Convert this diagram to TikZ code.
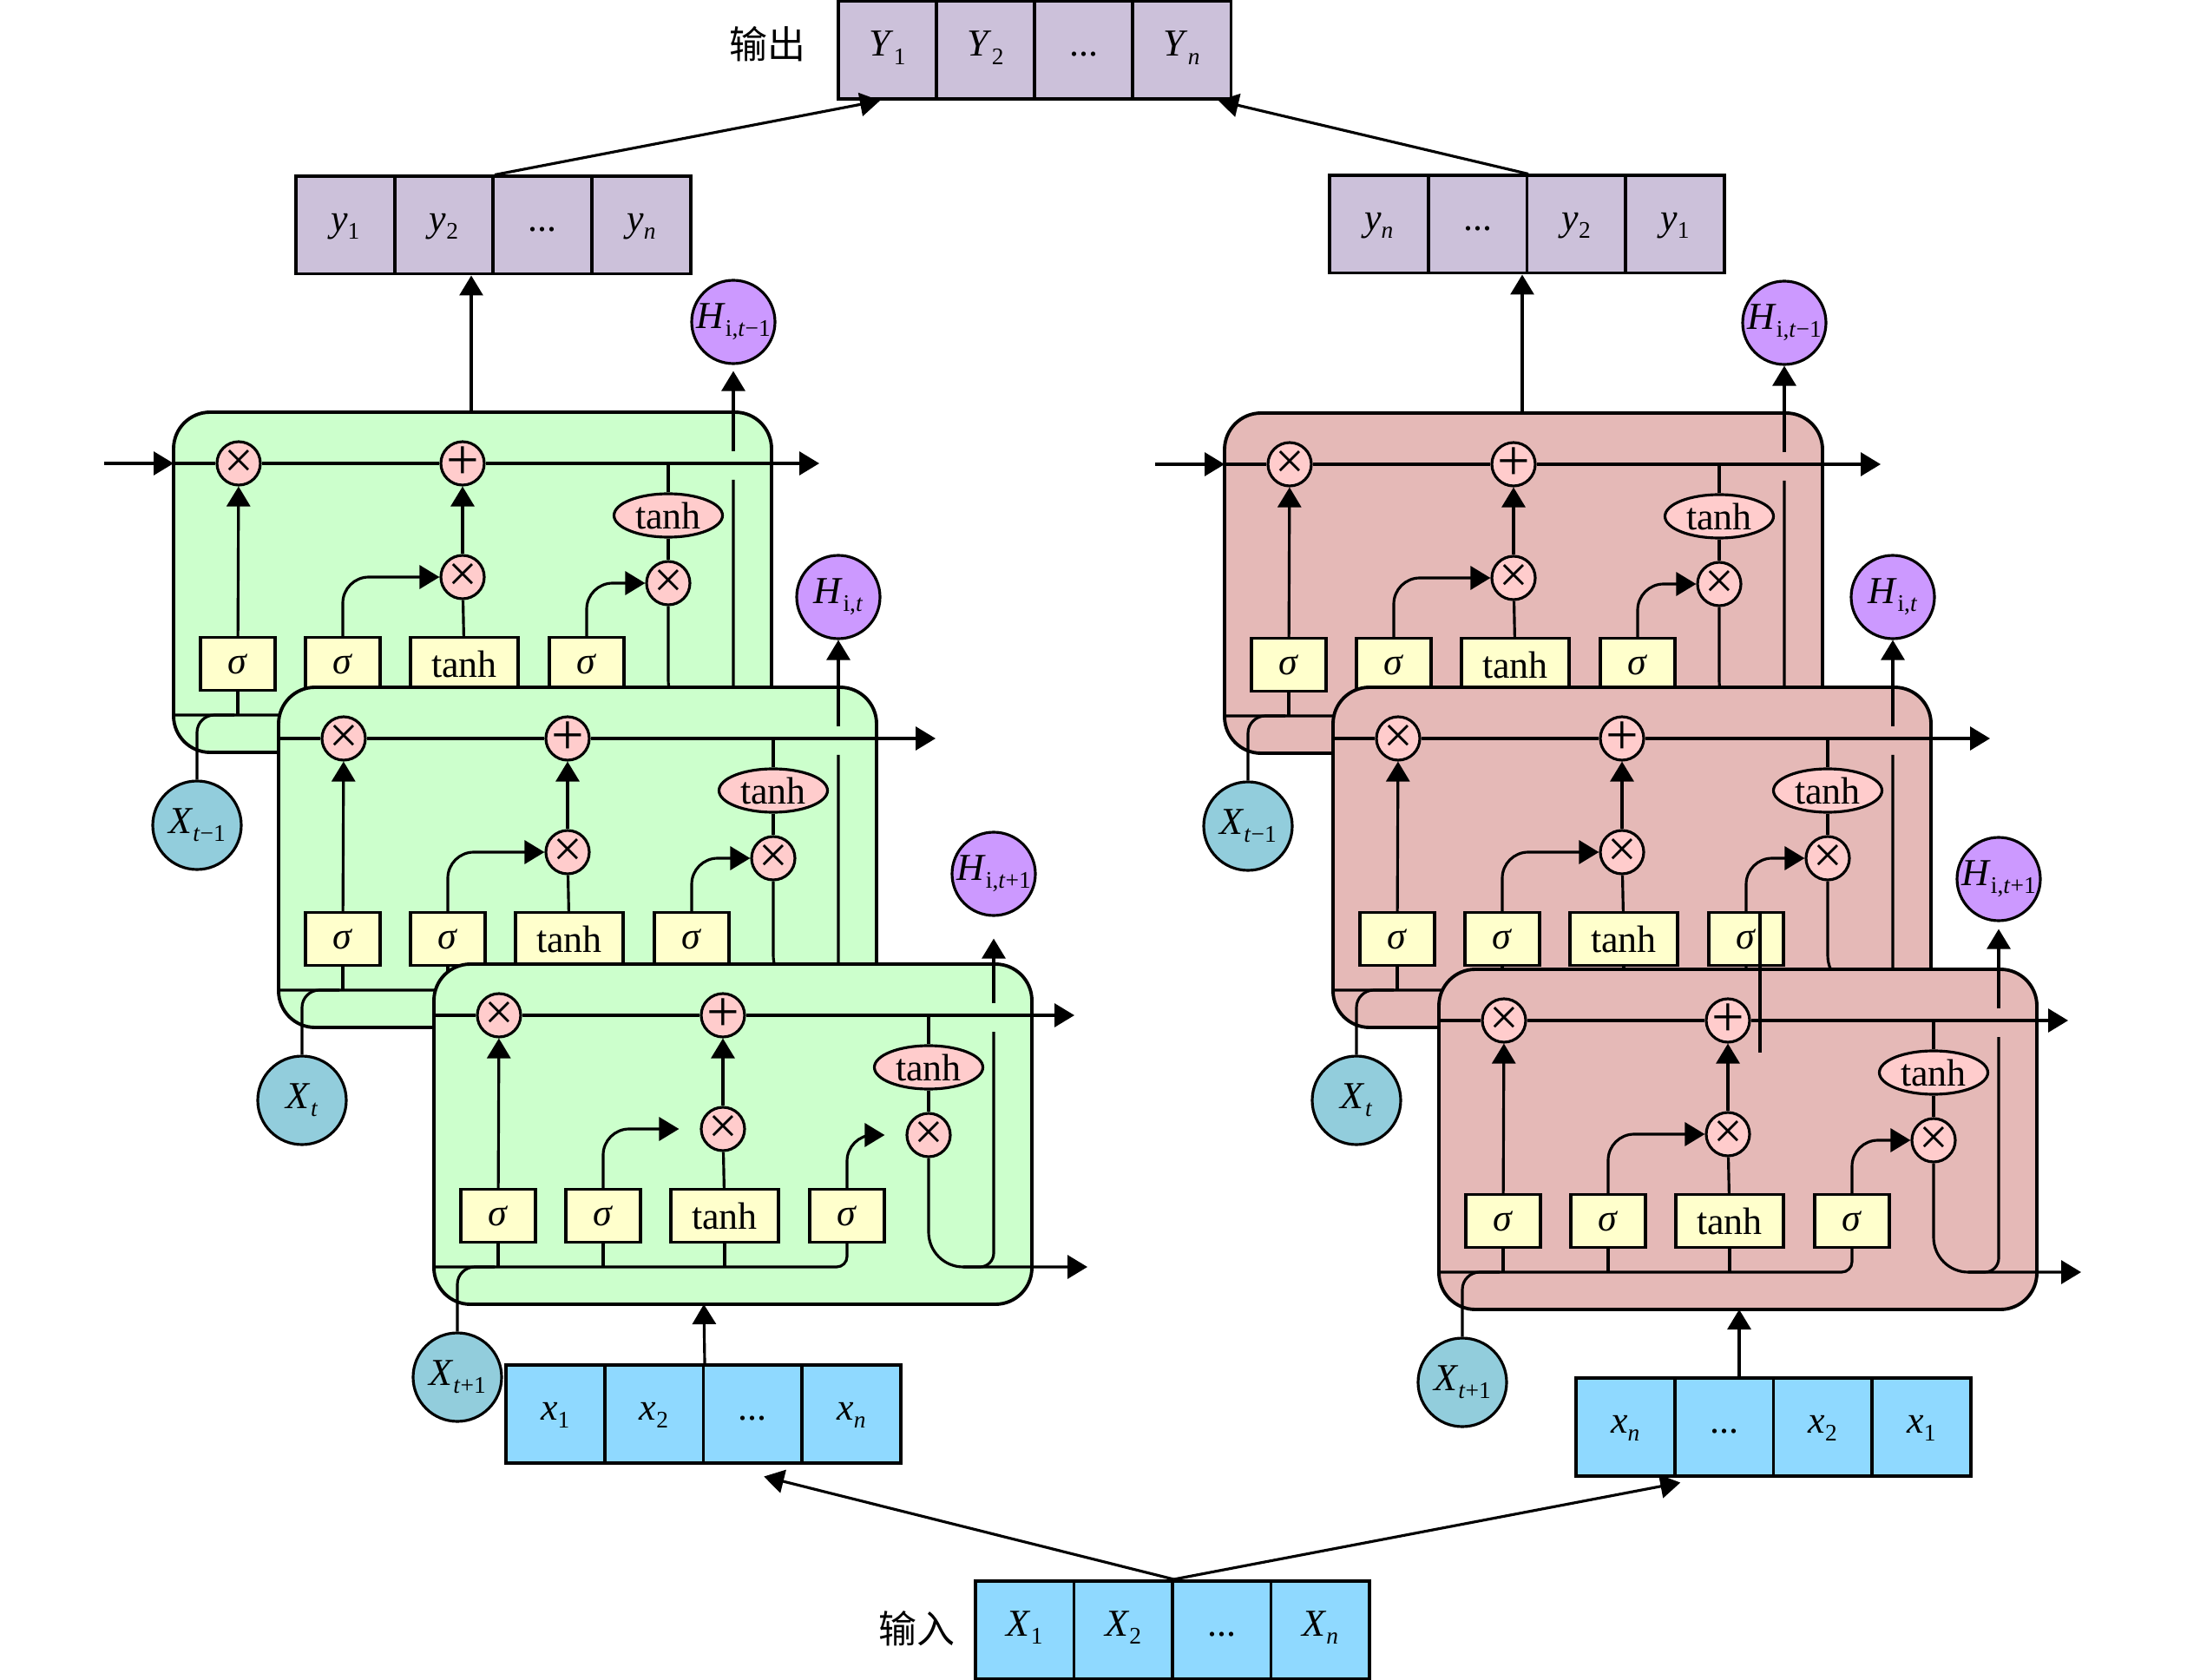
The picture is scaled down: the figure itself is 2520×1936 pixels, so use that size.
\documentclass[tikz,border=0pt]{standalone}
\usepackage{fontspec}
\setmainfont{Liberation Serif}
\newfontfamily\cjk{Noto Sans CJK SC}
\usetikzlibrary{arrows.meta,shapes.geometric}
\definecolor{cgreen}{HTML}{CCFFCC}
\definecolor{cpink}{HTML}{E5B9B7}
\definecolor{opk}{HTML}{FFCCCC}
\definecolor{gyel}{HTML}{FFFFCC}
\definecolor{hpur}{HTML}{CC99FF}
\definecolor{xteal}{HTML}{92CDDC}
\definecolor{ylav}{HTML}{CCC1DA}
\definecolor{xblue}{HTML}{8FD9FF}
\newcommand{\ssb}[2]{\textit{#1}\raisebox{-2.6pt}{\fontsize{7.8pt}{7.8pt}\selectfont #2}}
\newcommand{\opx}{\makebox[0pt]{\fontsize{17pt}{17pt}\selectfont ×}}
\newcommand{\opp}{\makebox[0pt]{\fontsize{19pt}{19pt}\selectfont +}}
\tikzset{
  ln/.style={line width=0.9pt},
  arr/.style={ln,-{Triangle[length=2.3mm,width=2.7mm]}},
  cellbox/.style={draw,line width=1.1pt,rounded corners=4.2mm},
  opc/.style={circle,draw,ln,fill=opk,minimum size=5mm,inner sep=0pt},
  tanhell/.style={ellipse,draw,ln,fill=opk,minimum width=12.5mm,minimum height=5mm,inner sep=0pt},
  gatebox/.style={rectangle,draw,ln,fill=gyel,minimum width=8.6mm,minimum height=6.1mm,inner sep=0pt},
  tanhbox/.style={gatebox,minimum width=12.4mm},
  hcirc/.style={circle,draw,ln,fill=hpur,minimum size=9.6mm,inner sep=0pt},
  xcirc/.style={circle,draw,ln,fill=xteal,minimum size=10.2mm,inner sep=0pt},
  vcell/.style={rectangle,draw,line width=1pt,minimum width=11.35mm,minimum height=11.25mm,inner sep=0pt,text height=2.6mm,text depth=1.2mm},
}
% #1 x, #2 y, #3 prefix, #4 fill, #5 X label, #6 H label, #7 state arrow end, #8 gate arrow shorten, #9 H arrow gap
\newcommand{\lstmcell}[9]{%
\begin{scope}[shift={(#1,#2)}]
\draw[cellbox,fill=#4] (0,0) rectangle (689,392);
\node[opc] (#3f) at (75,59) {\opx};
\node[opc] (#3p) at (333,59) {\opp};
\node[opc] (#3i) at (333,190) {\opx};
\node[opc] (#3o) at (570,197) {\opx};
\node[tanhell] (#3te) at (570,119) {tanh};
\node[gatebox] (#3b1) at (74,290) {\textit{σ}};
\node[gatebox] (#3b2) at (195,290) {\textit{σ}};
\node[tanhbox] (#3b3) at (335,290) {tanh};
\node[gatebox] (#3b4) at (476,290) {\textit{σ}};
\node[xcirc] (#3X) at (27,476) {\makebox[0pt]{#5}};
\node[hcirc] (#3H) at (645,-104) {\makebox[0pt]{#6}};
\coordinate (#3in) at (0,59);
\coordinate (#3out) at (#7,59);
\coordinate (#3tap) at (570,59);
\coordinate (#3bus) at (0,349);
\coordinate (#3xj) at (70,349);
\coordinate (#3hout) at (#7+15,349);
\coordinate (#3hj) at (610,349);
\coordinate (#3hb) at (645,78);
\coordinate (#3ht) at (645,45);
\coordinate (#3top) at (343,0);
\draw[ln] (#3in) -- (#3f);
\draw[ln] (#3f) -- (#3p);
\draw[arr] (#3p) -- (#3out);
\draw[ln] (#3tap) -- (#3te);
\draw[ln] (#3te) -- (#3o);
\draw[arr] (#3b1) -- (#3f);
\draw[ln] (#3b3) -- (#3i);
\draw[arr] (#3i) -- (#3p);
\draw[arr,rounded corners=3mm,shorten >=#8] (#3b2.north) |- (#3i.west);
\draw[arr,rounded corners=3mm,shorten >=#8] (#3b4.north) |- (#3o.west);
\draw[ln,rounded corners=1.2mm] (#3bus) -| (#3b4.south);
\draw[ln] (#3b1.south) -- (#3b1.south |- #3bus);
\draw[ln] (#3b2.south) -- (#3b2.south |- #3bus);
\draw[ln] (#3b3.south) -- (#3b3.south |- #3bus);
\draw[ln,rounded corners=2mm] (#3X.north) |- (#3xj);
\draw[arr,rounded corners=4mm] (#3o.south) |- (#3hout);
\draw[ln,rounded corners=1.6mm] (#3hj) -| (#3hb);
\draw[arr,shorten >=#9] (#3ht) -- (#3H);
\end{scope}}

\begin{document}
\begin{tikzpicture}[x=0.1mm,y=-0.1mm,font=\fontsize{12.5pt}{15pt}\selectfont]
\useasboundingbox (0,0) rectangle (2520,1936);

% ---------- left column ----------
\lstmcell{200}{475}{L1}{cgreen}{\ssb{X}{\textit{t}−1}}{\ssb{H}{i,\textit{t}−1}}{744}{0mm}{0.7mm}
\lstmcell{321}{792}{L2}{cgreen}{\ssb{X}{\textit{t}}}{\ssb{H}{i,\textit{t}}}{757}{0mm}{0mm}
\lstmcell{500}{1111}{L3}{cgreen}{\ssb{X}{\textit{t}+1}}{\ssb{H}{i,\textit{t}+1}}{738}{2.4mm}{2.5mm}
% ---------- right column ----------
\lstmcell{1411}{476}{R1}{cpink}{\ssb{X}{\textit{t}−1}}{\ssb{H}{i,\textit{t}−1}}{756}{0mm}{0mm}
\lstmcell{1536}{792}{R2}{cpink}{\ssb{X}{\textit{t}}}{\ssb{H}{i,\textit{t}}}{757}{0mm}{0mm}
\lstmcell{1658}{1117}{R3}{cpink}{\ssb{X}{\textit{t}+1}}{\ssb{H}{i,\textit{t}+1}}{725}{0mm}{0.8mm}

% stray vertical line in right column
\coordinate (sA) at (2028,1052);
\coordinate (sB) at (2028,1213);
\draw[ln] (sA) -- (sB);

% incoming cell-state arrows
\coordinate (Lsrc) at (120,534);
\coordinate (Rsrc) at (1331,535);
\draw[arr] (Lsrc) -- (L1in);
\draw[arr] (Rsrc) -- (R1in);

% ---------- output box ----------
\node[font=\cjk\fontsize{12.5pt}{15pt}\selectfont] (outlbl) at (884,51) {输出};
\node[vcell,fill=ylav] (oY1) at (1022.5,58) {\ssb{Y}{1}};
\node[vcell,fill=ylav] (oY2) at (1135.5,58) {\ssb{Y}{2}};
\node[vcell,fill=ylav] (oY3) at (1248.5,58) {...};
\node[vcell,fill=ylav] (oYn) at (1361.5,58) {\ssb{Y}{\textit{n}}};

% ---------- left y box ----------
\node[vcell,fill=ylav] (ly1) at (397.75,259.5) {\ssb{y}{1}};
\node[vcell,fill=ylav] (ly2) at (511.5,259.5) {\ssb{y}{2}};
\node[vcell,fill=ylav] (ly3) at (625.25,259.5) {...};
\node[vcell,fill=ylav] (ly4) at (739,259.5) {\ssb{y}{\textit{n}}};

% ---------- right y box ----------
\node[vcell,fill=ylav] (ry1) at (1588.75,258.5) {\ssb{y}{\textit{n}}};
\node[vcell,fill=ylav] (ry2) at (1702.5,258.5) {...};
\node[vcell,fill=ylav] (ry3) at (1816.25,258.5) {\ssb{y}{2}};
\node[vcell,fill=ylav] (ry4) at (1930,258.5) {\ssb{y}{1}};

% ---------- left x box ----------
\node[vcell,fill=xblue] (lx1) at (639.75,1629.5) {\ssb{x}{1}};
\node[vcell,fill=xblue] (lx2) at (753.5,1629.5) {\ssb{x}{2}};
\node[vcell,fill=xblue] (lx3) at (867.25,1629.5) {...};
\node[vcell,fill=xblue] (lx4) at (981,1629.5) {\ssb{x}{\textit{n}}};

% ---------- right x box ----------
\node[vcell,fill=xblue] (rx1) at (1872.75,1644.5) {\ssb{x}{\textit{n}}};
\node[vcell,fill=xblue] (rx2) at (1986.5,1644.5) {...};
\node[vcell,fill=xblue] (rx3) at (2100.25,1644.5) {\ssb{x}{2}};
\node[vcell,fill=xblue] (rx4) at (2214,1644.5) {\ssb{x}{1}};

% ---------- input box ----------
\node[font=\cjk\fontsize{12.5pt}{15pt}\selectfont] (inlbl) at (1056,1877) {输入};
\node[vcell,fill=xblue] (in1) at (1180.5,1878) {\ssb{X}{1}};
\node[vcell,fill=xblue] (in2) at (1294,1878) {\ssb{X}{2}};
\node[vcell,fill=xblue] (in3) at (1407.5,1878) {...};
\node[vcell,fill=xblue] (in4) at (1521,1878) {\ssb{X}{\textit{n}}};

% ---------- connectors between blocks ----------
\draw[arr] (L1top) -- (L1top |- ly2.south);
\draw[arr] (R1top) -- (R1top |- ry2.south);
\draw[arr] (ly2.north east) -- ([xshift=-0.85mm]oY1.south);
\draw[arr] (ry2.north east) -- ([xshift=4.25mm]oYn.south);
\coordinate (L3bot) at (811,1503);
\coordinate (R3bot) at (2004,1509);
\draw[arr] (lx2.north east) -- (L3bot);
\draw[arr] (R3bot |- rx2.north) -- (R3bot);
\draw[arr] (in2.north east) -- ([xshift=1.3mm,yshift=-1.4mm]lx3.south);
\draw[arr] (in2.north east) -- ([xshift=0.5mm,yshift=-0.6mm]rx1.south east);
\end{tikzpicture}
\end{document}
